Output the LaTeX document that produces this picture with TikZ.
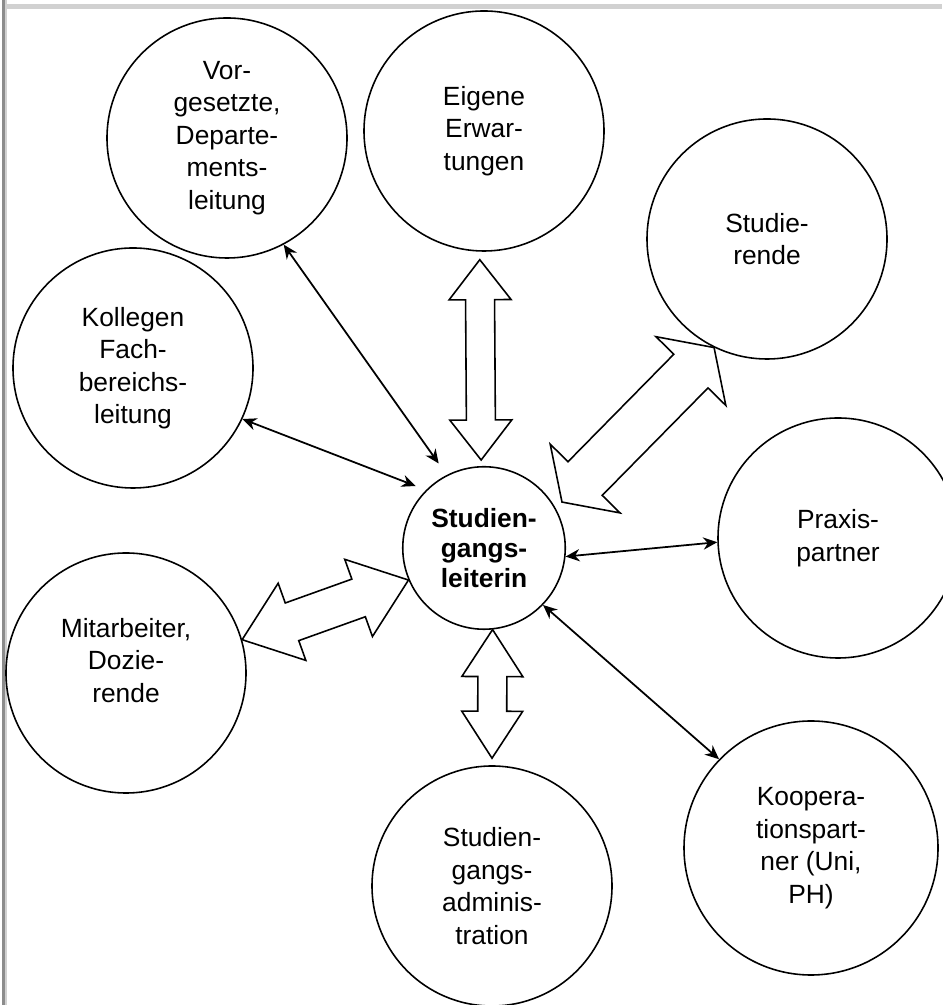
\documentclass[tikz,border=0pt]{standalone}
\usepackage{fontspec}
\setmainfont{Liberation Sans}
\usetikzlibrary{calc,arrows.meta}

\definecolor{framedark}{gray}{0.55}
\definecolor{framelight}{gray}{0.82}

\begin{document}
\begin{tikzpicture}
   \tikzstyle{every node}=[draw, circle, line width=0.9pt, minimum size=4.8cm, inner sep=0pt, align=center, font=\fontsize{15}{18.5}\selectfont]
   \tikzstyle{thin arrow}=[line width=1pt, {Stealth[length=8pt,width=7pt]}-{Stealth[length=8pt,width=7pt]}]
   \tikzset{fat arrow/.style n args={3}{line width=0.9pt, to path={
      (\tikztostart) -- ($(\tikztostart)!#1!(\tikztotarget)!#2!90:(\tikztotarget)$)
      -- ($(\tikztostart)!#1!(\tikztotarget)!#3!90:(\tikztotarget)$)
      -- ($(\tikztotarget)!#1!(\tikztostart)!#3!-90:(\tikztostart)$)
      -- ($(\tikztotarget)!#1!(\tikztostart)!#2!-90:(\tikztostart)$)
      -- (\tikztotarget)
      -- ($(\tikztotarget)!#1!(\tikztostart)!#2!90:(\tikztostart)$)
      -- ($(\tikztotarget)!#1!(\tikztostart)!#3!90:(\tikztostart)$)
      -- ($(\tikztostart)!#1!(\tikztotarget)!#3!-90:(\tikztotarget)$)
      -- ($(\tikztostart)!#1!(\tikztotarget)!#2!-90:(\tikztotarget)$)
      -- cycle}}}

\useasboundingbox (0,0) rectangle (18.84,20.1);
% frame
\fill[framedark] (0.04,0) rectangle (0.10,20.1);
\fill[framelight] (0.10,0) rectangle (0.14,20.1);
\fill[framelight] (0.14,19.92) rectangle (18.84,20.02);

% circles
\node (vor) at (4.54,17.34) {Vor-\\gesetzte,\\Departe-\\ments-\\leitung};
\node (eig) at (9.68,17.48) {Eigene\\Erwar-\\tungen};
\node (stu) at (15.34,15.32) {Studie-\\rende};
\node (kol) at (2.66,12.74) {Kollegen\\Fach-\\bereichs-\\leitung};
\node[minimum size=3.25cm, font=\bfseries\fontsize{15}{17}\selectfont] (cen) at (9.68,9.14) {Studien-\\gangs-\\leiterin};
\node (pra) at (16.76,9.34) {Praxis-\\partner};
\node (mit) at (2.52,6.64) {Mitarbeiter,\\Dozie-\\rende\\[-0.13cm]};
\node (adm) at (9.84,2.38) {Studien-\\gangs-\\adminis-\\tration};
\node[minimum size=5.08cm] (koo) at (16.22,3.14) {Koopera-\\tionspart-\\ner (Uni,\\PH)};

% thin connectors
\draw[thin arrow, shorten >=0.28cm] (vor.298) -- (cen.117);
\draw[thin arrow, shorten >=0.22cm] (kol.335) -- (cen.135);
\draw[thin arrow] (cen.354) -- (pra.182);
\draw[thin arrow] (cen.316) -- (koo.136);

% hollow connectors
\coordinate (eigtip) at ([yshift=-0.16cm]eig.268);
\coordinate (centop) at ([yshift=0.12cm]cen.92);
\draw[fat arrow={0.8cm}{0.62cm}{0.29cm}] (eigtip) to (centop);

\coordinate (stutip) at (stu.244);
\coordinate (cenne) at ($(cen.center)+(30.5:1.81cm)$);
\draw[fat arrow={0.66cm}{0.98cm}{0.48cm}] (cenne) to (stutip);

\coordinate (mittip) at (mit.16);
\coordinate (cenw) at (cen.203);
\draw[fat arrow={1.06cm}{0.82cm}{0.4cm}] (mittip) to (cenw);

\coordinate (cenbot) at (cen.276);
\coordinate (admtip) at ([yshift=0.14cm]adm.north);
\draw[fat arrow={0.94cm}{0.61cm}{0.29cm}] (cenbot) to (admtip);

\end{tikzpicture}
\end{document}
